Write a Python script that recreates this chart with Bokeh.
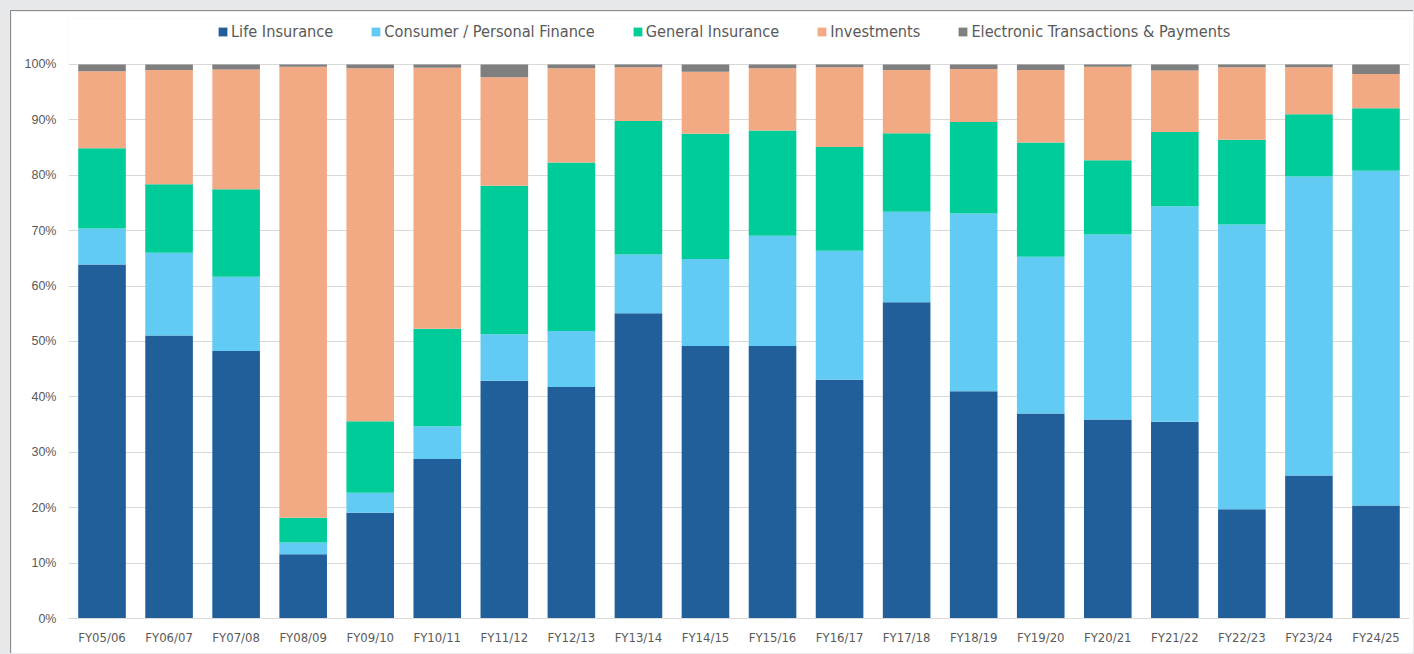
from bokeh.plotting import figure
from bokeh.models import (FactorRange, Range1d, FixedTicker, PrintfTickFormatter,
                          Legend, LegendItem, ColumnDataSource)
from bokeh.embed import file_html
from bokeh.resources import INLINE

# Share of total (%) by financial year
years = ["FY05/06", "FY06/07", "FY07/08", "FY08/09", "FY09/10", "FY10/11", "FY11/12",
         "FY12/13", "FY13/14", "FY14/15", "FY15/16", "FY16/17", "FY17/18", "FY18/19",
         "FY19/20", "FY20/21", "FY21/22", "FY22/23", "FY23/24", "FY24/25"]

life_insurance = [63.9, 51.1, 48.3, 11.6, 19.1, 28.8, 42.9, 41.8, 55.1, 49.2,
                  49.2, 43.1, 57.1, 41.0, 37.0, 35.9, 35.5, 19.7, 25.8, 20.4]
consumer_finance = [6.5, 14.9, 13.4, 2.1, 3.6, 5.9, 8.4, 10.1, 10.6, 15.7,
                    19.9, 23.3, 16.3, 32.1, 28.3, 33.4, 38.9, 51.4, 54.0, 60.4]
general_insurance = [14.5, 12.4, 15.8, 4.5, 12.9, 17.6, 26.8, 30.4, 24.1, 22.6,
                     19.0, 18.7, 14.2, 16.5, 20.6, 13.4, 13.4, 15.3, 11.2, 11.3]
investments = [13.9, 20.6, 21.6, 81.4, 63.7, 47.1, 19.6, 17.0, 9.7, 11.2,
               11.2, 14.4, 11.4, 9.6, 13.1, 16.9, 11.1, 13.1, 8.5, 6.2]
electronic_payments = [1.2, 1.0, 0.9, 0.4, 0.7, 0.6, 2.3, 0.7, 0.5, 1.3,
                       0.7, 0.5, 1.0, 0.8, 1.0, 0.4, 1.1, 0.5, 0.5, 1.7]

series_names = ["Life Insurance", "Consumer / Personal Finance", "General Insurance",
                "Investments", "Electronic Transactions & Payments"]
series_keys = ["life", "consumer", "general", "invest", "epay"]
series_colors = ["#215f9a", "#61cbf3", "#00cc99", "#f2aa84", "#7f7f7f"]
y_ticks = [0, 10, 20, 30, 40, 50, 60, 70, 80, 90, 100]

source = ColumnDataSource(dict(
    year=years,
    life=life_insurance,
    consumer=consumer_finance,
    general=general_insurance,
    invest=investments,
    epay=electronic_payments,
))

TEXT = "#595959"
NARROW = "'DejaVu Sans Condensed', 'Roboto Condensed', Roboto, sans-serif"

# The frame reaches above 100% so the legend can sit over the bars
p = figure(
    x_range=FactorRange(*years), y_range=Range1d(0, 108.3),
    width=1403, height=643, output_backend="svg", toolbar_location=None,
    min_border_left=57, min_border_right=5, min_border_top=7, min_border_bottom=36,
)
p.margin = (10, 0, 0, 10)
p.styles = {"border-left": "1px solid #8c8c8c", "border-top": "1px solid #8c8c8c"}

renderers = p.vbar_stack(series_keys, x="year", width=0.71, source=source,
                         fill_color=series_colors, line_color=None)

p.background_fill_color = "white"
p.border_fill_color = "white"
p.outline_line_color = None

p.xgrid.visible = False
p.ygrid.ticker = FixedTicker(ticks=y_ticks)
p.ygrid.grid_line_color = "#d9d9d9"
p.ygrid.grid_line_width = 1
p.ygrid.level = "underlay"

p.yaxis.ticker = FixedTicker(ticks=y_ticks)
p.yaxis.formatter = PrintfTickFormatter(format="%d%%")
p.yaxis.axis_line_color = None
p.yaxis.major_tick_line_color = None
p.yaxis.minor_tick_line_color = None
p.yaxis.major_label_text_font = "Liberation Sans"
p.yaxis.major_label_text_font_size = "12.5px"
p.yaxis.major_label_text_color = TEXT
p.yaxis.major_label_standoff = 6

p.xaxis.axis_line_color = "#d9d9d9"
p.xaxis.major_tick_line_color = None
p.xaxis.minor_tick_line_color = None
p.xaxis.major_label_text_font = NARROW
p.xaxis.major_label_text_font_size = "13px"
p.xaxis.major_label_text_color = TEXT
p.xaxis.major_label_standoff = 5

legend = Legend(
    items=[LegendItem(label=name, renderers=[r]) for name, r in zip(series_names, renderers)],
    orientation="horizontal", location=(149, 577),
    glyph_width=11, glyph_height=11, label_standoff=3, spacing=37,
    label_height=20, padding=0, margin=0,
    border_line_color=None, background_fill_alpha=0,
    label_text_font=NARROW, label_text_font_size="16.2px", label_text_color=TEXT,
)
p.add_layout(legend, "center")

html = file_html(p, INLINE)
html = html.replace("<head>", "<head><style>html, body { margin: 0; background: #e7e8ea; }</style>", 1)
with open("out.html", "w") as f:
    f.write(html)
